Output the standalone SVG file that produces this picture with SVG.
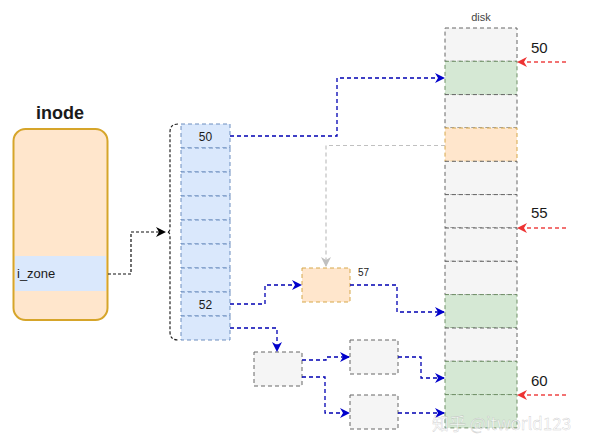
<svg xmlns="http://www.w3.org/2000/svg" width="594" height="447" viewBox="0 0 594 447">
<defs>
<style>
.t{font-family:"Liberation Sans",Arial,sans-serif;fill:#1a1a1a}
.idx{fill:#dae8fc;stroke:#6c8ebf;stroke-dasharray:4 3}
.gry{fill:#f5f5f5;stroke:#666;stroke-dasharray:4 3}
.grn{fill:#d5e8d4;stroke:#6f8f66;stroke-dasharray:4 3}
.org{fill:#ffe6cc;stroke:#d6a84a;stroke-dasharray:4 3}
.c{fill:none;stroke:#0000b3;stroke-width:1.3;stroke-dasharray:4 3}
.r{fill:none;stroke:#ee4444;stroke-width:1.3;stroke-dasharray:4 3}
</style>
<marker id="ab" markerWidth="10" markerHeight="10" refX="9" refY="5" orient="auto" markerUnits="userSpaceOnUse"><path d="M0,0 L10,5 L0,10 L3,5 Z" fill="#0000cc"/></marker>
<marker id="ak" markerWidth="10" markerHeight="10" refX="9" refY="5" orient="auto" markerUnits="userSpaceOnUse"><path d="M0,0 L10,5 L0,10 L3,5 Z" fill="#000"/></marker>
<marker id="ag" markerWidth="10" markerHeight="10" refX="9" refY="5" orient="auto" markerUnits="userSpaceOnUse"><path d="M0,0 L10,5 L0,10 L3,5 Z" fill="#c0c0c0"/></marker>
<marker id="ar" markerWidth="10" markerHeight="10" refX="9" refY="5" orient="auto" markerUnits="userSpaceOnUse"><path d="M0,0 L10,5 L0,10 L3,5 Z" fill="#ee3333"/></marker>
</defs>
<rect width="594" height="447" fill="#fff"/>

<g id="inode">
<text x="60" y="119" class="t" font-size="18" font-weight="bold" text-anchor="middle">inode</text>
<rect x="13.5" y="129" width="94" height="191" rx="12" fill="#ffe6cc" stroke="#d6a52a" stroke-width="2"/>
<rect x="15" y="256" width="91" height="35" fill="#dae8fc"/>
<text x="17" y="278" class="t" font-size="13">i_zone</text>
</g>

<g id="index">
<rect x="181" y="124" width="49" height="24" class="idx"/>
<rect x="181" y="148" width="49" height="24" class="idx"/>
<rect x="181" y="172" width="49" height="24" class="idx"/>
<rect x="181" y="196" width="49" height="24" class="idx"/>
<rect x="181" y="220" width="49" height="24" class="idx"/>
<rect x="181" y="244" width="49" height="24" class="idx"/>
<rect x="181" y="268" width="49" height="24" class="idx"/>
<rect x="181" y="292" width="49" height="24" class="idx"/>
<rect x="181" y="316" width="49" height="24" class="idx"/>
<text x="205.5" y="141" class="t" font-size="12" text-anchor="middle">50</text>
<text x="205.5" y="309" class="t" font-size="12" text-anchor="middle">52</text>
<path d="M178,124 Q170,124 170,132 L170,228 Q170,232 167,232 Q170,232 170,236 L170,332 Q170,340 178,340" fill="none" stroke="#222" stroke-width="1.2" stroke-dasharray="3 2"/>
</g>

<g id="disk">
<text x="481" y="21" font-family="Liberation Sans,Arial,sans-serif" font-size="11" fill="#444" text-anchor="middle">disk</text>
<rect x="445" y="28" width="72" height="33.3" class="gry"/>
<rect x="445" y="61.3" width="72" height="33.3" class="grn"/>
<rect x="445" y="94.6" width="72" height="33.3" class="gry"/>
<rect x="445" y="128" width="72" height="33.3" class="org"/>
<rect x="445" y="161.3" width="72" height="33.3" class="gry"/>
<rect x="445" y="194.6" width="72" height="33.3" class="gry"/>
<rect x="445" y="228" width="72" height="33.3" class="gry"/>
<rect x="445" y="261.3" width="72" height="33.3" class="gry"/>
<rect x="445" y="294.6" width="72" height="33.3" class="grn"/>
<rect x="445" y="328" width="72" height="33.3" class="gry"/>
<rect x="445" y="361.3" width="72" height="33.3" class="grn"/>
<rect x="445" y="394.6" width="72" height="33.3" class="grn"/>
<text x="531" y="53" class="t" font-size="15">50</text>
<text x="531" y="218" class="t" font-size="15">55</text>
<text x="531" y="386" class="t" font-size="15">60</text>
</g>

<g id="b57">
<rect x="302" y="268" width="48" height="34" class="org"/>
<text x="358" y="276" class="t" font-size="10">57</text>
</g>
<g id="g1"><rect x="254" y="352" width="48" height="34" class="gry"/></g>
<g id="g2"><rect x="350" y="340" width="48" height="34" class="gry"/></g>
<g id="g3"><rect x="350" y="395" width="48" height="34" class="gry"/></g>

<g id="connectors">
<path d="M108,274 H131 V232 H165" fill="none" stroke="#111" stroke-width="1.2" stroke-dasharray="3 2" marker-end="url(#ak)"/>
<path d="M230,136 H337 V78 H444" class="c" marker-end="url(#ab)"/>
<path d="M445,145.5 H326 V266" fill="none" stroke="#c0c0c0" stroke-width="1.2" stroke-dasharray="4 3" marker-end="url(#ag)"/>
<path d="M230,304 H265 V285 H301" class="c" marker-end="url(#ab)"/>
<path d="M350,285 H397 V312 H444" class="c" marker-end="url(#ab)"/>
<path d="M230,328 H277 V351" class="c" marker-end="url(#ab)"/>
<path d="M302,360 H326 V357 H349" class="c" marker-end="url(#ab)"/>
<path d="M302,377 H325 V413 H349" class="c" marker-end="url(#ab)"/>
<path d="M398,357 H421 V378 H444" class="c" marker-end="url(#ab)"/>
<path d="M398,413 H444" class="c" marker-end="url(#ab)"/>
<path d="M566,62 H518" class="r" marker-end="url(#ar)"/>
<path d="M566,228 H518" class="r" marker-end="url(#ar)"/>
<path d="M566,395 H518" class="r" marker-end="url(#ar)"/>
</g>

<text x="432" y="430" font-family="Noto Sans CJK SC,Liberation Sans,sans-serif" font-size="17" fill="#ffffff" fill-opacity="0.75" stroke="#999" stroke-width="0.4" stroke-opacity="0.5">知乎 @itworld123</text>
</svg>
